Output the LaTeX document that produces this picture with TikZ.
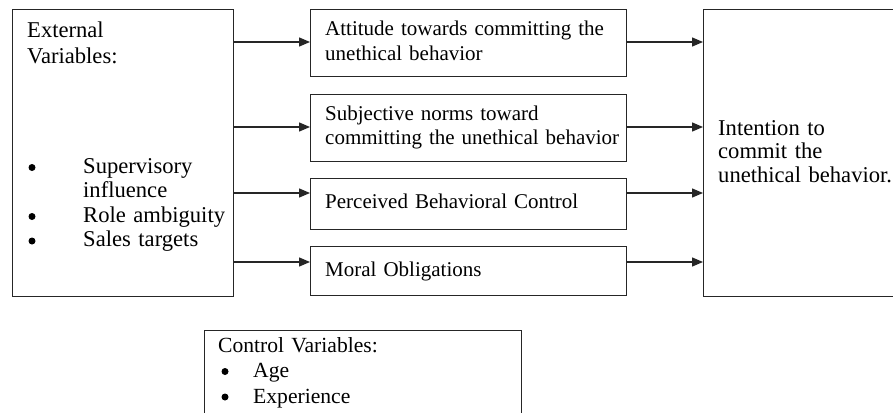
\documentclass[tikz,border=0pt]{standalone}
\usepackage{fontspec}
\setmainfont{Liberation Serif}
\usetikzlibrary{arrows.meta}
\begin{document}
\begin{tikzpicture}[x=1pt,y=-1pt,
  box/.style={draw=black!85,line width=1.3pt,anchor=north west,inner sep=0pt},
  txt/.style={anchor=base west,inner sep=0pt,align=left,text width=300pt,
    font=\fontsize{21}{24.5}\selectfont},
  bigtxt/.style={txt,font=\fontsize{22.6}{24.5}\selectfont},
  ctltxt/.style={txt,font=\fontsize{21.6}{25.5}\selectfont},
  bul/.style={circle,fill=black,inner sep=0pt,minimum size=7pt},
  arr/.style={draw=black!85,line width=1.3pt,-{Triangle[length=11pt,width=9pt]}}]
\useasboundingbox (0,0) rectangle (893,412);
\clip (0,0) rectangle (893,412);
% boxes
\node[box,minimum width=221pt,minimum height=287pt] (ext) at (12,9) {};
\node[box,minimum width=316pt,minimum height=67pt] (att) at (310,9) {};
\node[box,minimum width=316pt,minimum height=67pt] (sub) at (310,94) {};
\node[box,minimum width=316pt,minimum height=51pt] (pbc) at (310,178) {};
\node[box,minimum width=316pt,minimum height=49pt] (mor) at (310,246) {};
\node[box,minimum width=230pt,minimum height=287pt] (int) at (703,9) {};
\node[box,minimum width=317pt,minimum height=110pt] (ctl) at (204,330) {};
% texts
\node[bigtxt,font=\fontsize{22.6}{26}\selectfont] (extT) at (27,37.5) {External\\Variables:};
\node[bul] (b1) at (32,167.5) {};
\node[bul] (b2) at (32,216.5) {};
\node[bul] (b3) at (32,241) {};
\node[bigtxt] (extL) at (83,173) {Supervisory\\influence\\Role ambiguity\\Sales targets};
\node[txt] (attT) at (325,36) {Attitude towards committing the\\unethical behavior};
\node[txt] (subT) at (325,120) {Subjective norms toward\\committing the unethical behavior};
\node[txt] (pbcT) at (325,208) {Perceived Behavioral Control};
\node[txt] (morT) at (325,276) {Moral Obligations};
\node[bigtxt,font=\fontsize{22.6}{23.5}\selectfont] (intT) at (718,135) {Intention to\\commit the\\unethical behavior.};
\node[ctltxt] (ctlT) at (218,352) {Control Variables:};
\node[bul] (c1) at (225,371.5) {};
\node[bul] (c2) at (225,397) {};
\node[ctltxt] (ctlL) at (253,377.5) {Age\\Experience};
% arrow levels
\coordinate (y1) at (0,42);
\coordinate (y2) at (0,127);
\coordinate (y3) at (0,193);
\coordinate (y4) at (0,262);
\draw[arr] (ext.east |- y1) -- (att.west |- y1);
\draw[arr] (ext.east |- y2) -- (sub.west |- y2);
\draw[arr] (ext.east |- y3) -- (pbc.west |- y3);
\draw[arr] (ext.east |- y4) -- (mor.west |- y4);
\draw[arr] (att.east |- y1) -- (int.west |- y1);
\draw[arr] (sub.east |- y2) -- (int.west |- y2);
\draw[arr] (pbc.east |- y3) -- (int.west |- y3);
\draw[arr] (mor.east |- y4) -- (int.west |- y4);
\end{tikzpicture}
\end{document}
